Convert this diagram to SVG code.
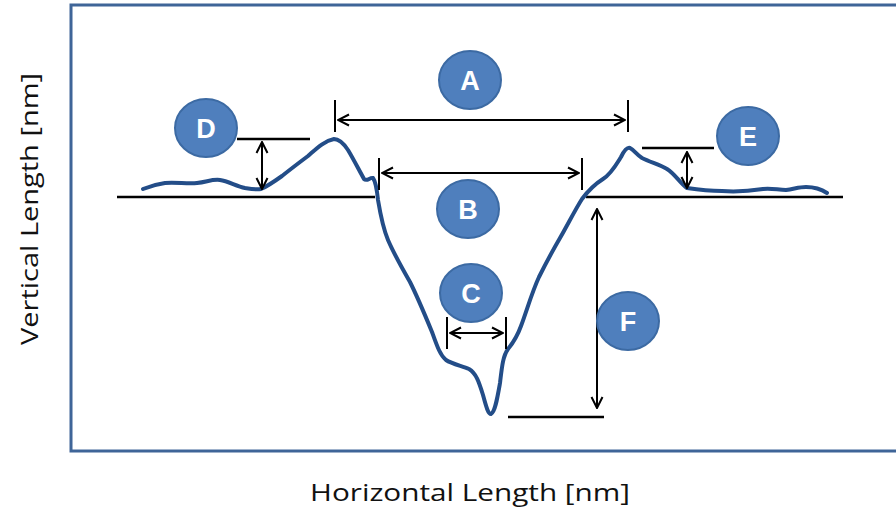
<svg xmlns="http://www.w3.org/2000/svg" width="896" height="515" viewBox="0 0 896 515">
<defs>
<marker id="ah" viewBox="0 0 14 14" refX="13" refY="7" markerWidth="14" markerHeight="14" markerUnits="userSpaceOnUse" orient="auto-start-reverse">
<path d="M2,1.5 L13,7 L2,12.5" fill="none" stroke="#000" stroke-width="2"/>
</marker>
</defs>
<style>
.frame{fill:#fff;stroke:#3f6598;stroke-width:3}
.base{stroke:#000;stroke-width:2.5;fill:none}
.tick{stroke:#000;stroke-width:2;fill:none}
.dim{stroke:#000;stroke-width:2;fill:none;marker-start:url(#ah);marker-end:url(#ah)}
.curve{fill:none;stroke:#234d88;stroke-width:4;stroke-linejoin:round;stroke-linecap:round}
.badge{fill:#4f7fbd;stroke:#3c6aa3;stroke-width:2}
.lbl{font-family:"Liberation Sans",Arial,sans-serif;font-weight:bold;font-size:27px;fill:#fff;text-anchor:middle}
.axis{font-family:"Open Sans","Noto Sans",sans-serif;font-size:23px;fill:#111;text-anchor:middle}
</style>
<rect width="896" height="515" fill="#fff"/>
<rect class="frame" x="71" y="5" width="840" height="446"/>
<g id="connectors">
<path class="base" d="M117,197 H375 M586,197 H843"/>
<path class="curve" d="M143,189 C150,186 158,184 165,183 C175,182 188,184 197,183 C207,182 212,179 220,180 C228,181 236,186 245,188 C251,189 256,190 261,189 C268,186 275,181 282,176 C292,168 300,162 308,156 C316,149 324,141 334,139 C340,139 344,144 348,150 C354,160 360,172 364,179 C367,182 370,177 373,178 C376,182 377,190 378,200 C380,212 383,228 388,240 C394,254 402,268 410,282 C418,298 425,315 432,332 C437,346 440,355 446,360 C452,364 462,366 469,369 C476,373 479,382 483,395 C486,406 488,414 491,414 C495,412 497,400 500,383 C502,366 503,356 508,349 C513,343 517,337 521,326 C527,310 532,292 539,277 C546,263 553,250 560,238 C567,226 575,210 582,199 C588,191 595,184 603,179 C611,174 616,165 621,157 C624,151 627,147 630,148 C634,150 637,155 642,158 C650,162 660,165 667,169 C675,174 680,183 687,188 C700,190 712,191 722,191 C735,192 750,191 763,189 C772,188 778,190 786,190 C794,189 799,187 806,187 C815,187 821,189 827,193"/>
<path class="tick" d="M335,100 V132 M628,100 V132 M379,158 V190 M582,158 V190 M447,317 V349 M506,317 V349"/>
<path class="dim" d="M338,120 H625"/>
<path class="dim" d="M382,173 H579"/>
<path class="dim" d="M450,333 H503"/>
<path class="base" d="M237,139 H310 M642,148 H714 M508,417 H604"/>
<path class="dim" d="M262,142 V189"/>
<path class="dim" d="M687,152 V188"/>
<path class="dim" d="M597,209 V408"/>
</g>
<g id="node-A"><ellipse class="badge" cx="470" cy="80" rx="31" ry="29"/><text class="lbl" x="470" y="90">A</text></g>
<g id="node-B"><ellipse class="badge" cx="468" cy="209" rx="31" ry="29"/><text class="lbl" x="468" y="219">B</text></g>
<g id="node-C"><ellipse class="badge" cx="471" cy="293" rx="31" ry="29"/><text class="lbl" x="471" y="303">C</text></g>
<g id="node-D"><ellipse class="badge" cx="206" cy="128" rx="31" ry="29"/><text class="lbl" x="206" y="138">D</text></g>
<g id="node-E"><ellipse class="badge" cx="748" cy="136" rx="31" ry="29"/><text class="lbl" x="748" y="146">E</text></g>
<g id="node-F"><ellipse class="badge" cx="628" cy="321" rx="31" ry="29"/><text class="lbl" x="628" y="331">F</text></g>
<text class="axis" x="470" y="501" textLength="320" lengthAdjust="spacingAndGlyphs">Horizontal Length [nm]</text>
<text class="axis" transform="translate(38,209) rotate(-90)" x="0" y="0" textLength="272" lengthAdjust="spacingAndGlyphs">Vertical Length [nm]</text>
</svg>
